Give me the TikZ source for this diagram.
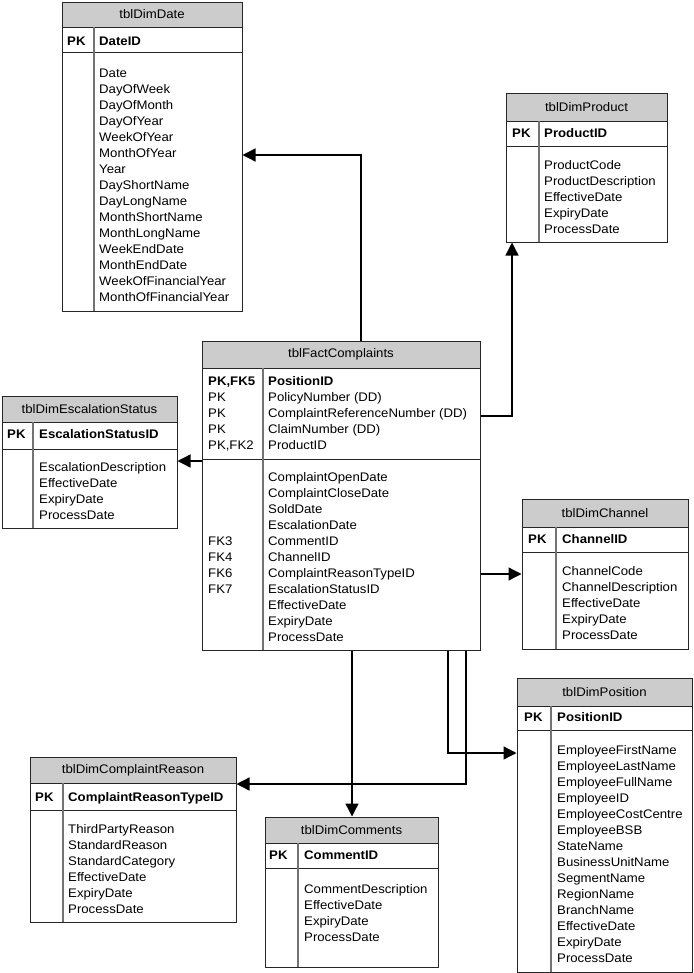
\documentclass[tikz,border=0pt]{standalone}
\usepackage{fontspec}
\setmainfont{Liberation Sans}[FakeStretch=1.06]
\usetikzlibrary{fit,arrows.meta}
\tikzset{
 hdrfill/.style={fill=black!20},
 rowline/.style={draw=black!85, line width=1bp},
 colline/.style={draw=black!55, line width=1.2bp},
 tblbox/.style={draw=black!85, line width=1bp, inner sep=0pt},
 ttl/.style={font=\fontsize{12.5}{16}\selectfont, inner sep=0pt},
 fld/.style={font=\fontsize{12.5}{16}\selectfont, anchor=base west, inner sep=0pt},
 conn/.style={draw=black, line width=1.3bp, -{Triangle[length=13bp,width=13bp]}},
}
% #1 name, #2 x1, #3 y1, #4 x2, #5 y2, #6 column x, #7 header bottom, #8 key section bottom, #9 title
\newcommand\dbtab[9]{%
 \coordinate (#1-nw) at (#2,#3);
 \coordinate (#1-se) at (#4,#5);
 \fill[hdrfill] (#2,#3) rectangle (#4,#7);
 \draw[rowline] (#2,#7) -- (#4,#7);
 \draw[rowline] (#2,#8) -- (#4,#8);
 \draw[colline] (#6,#7) -- (#6,#5);
 \node[tblbox, fit=(#1-nw)(#1-se)] (#1) {};
 \node[ttl] (#1-title) at ({(#2+#4)/2},{(#3+#7)/2}) {#9};
}
\newcommand\dblist[4]{%
 \foreach \t [count=\i from 0] in {#4} {\node[fld] (#1\i) at (#2,{#3+16*\i}) {\t};}%
}
\begin{document}
\begin{tikzpicture}[x=1bp,y=-1bp]
\useasboundingbox (0,0) rectangle (694,973);
\fill[white] (0,0) rectangle (694,973);

% tblDimDate
\dbtab{date}{62}{2}{242}{311}{94}{27}{52}{tblDimDate}
\node[fld] (date-pk) at (67,45) {\textbf{PK}};
\node[fld] (date-id) at (99,45) {\textbf{DateID}};
\dblist{dateb}{99}{77}{Date,DayOfWeek,DayOfMonth,DayOfYear,WeekOfYear,MonthOfYear,Year,DayShortName,DayLongName,MonthShortName,MonthLongName,WeekEndDate,MonthEndDate,WeekOfFinancialYear,MonthOfFinancialYear}

% tblDimProduct
\dbtab{prod}{506}{93}{667}{242}{539}{121}{146}{tblDimProduct}
\node[fld] (prod-pk) at (512,137) {\textbf{PK}};
\node[fld] (prod-id) at (544,137) {\textbf{ProductID}};
\dblist{prodb}{544}{169}{ProductCode,ProductDescription,EffectiveDate,ExpiryDate,ProcessDate}

% tblDimEscalationStatus
\dbtab{esc}{2}{396}{177}{528}{33}{422}{449}{tblDimEscalationStatus}
\node[fld] (esc-pk) at (7,438) {\textbf{PK}};
\node[fld] (esc-id) at (39,438) {\textbf{EscalationStatusID}};
\dblist{escb}{39}{471}{EscalationDescription,EffectiveDate,ExpiryDate,ProcessDate}

% tblFactComplaints
\dbtab{fact}{202}{341}{480}{650}{263}{368}{459}{tblFactComplaints}
\dblist{factk}{208}{385}{{\textbf{PK,FK5}},PK,PK,PK,{PK,FK2}}
\dblist{factf}{268}{385}{\textbf{PositionID},PolicyNumber (DD),ComplaintReferenceNumber (DD),ClaimNumber (DD),ProductID}
\dblist{factfk}{208}{545}{FK3,FK4,FK6,FK7}
\dblist{factb}{268}{481}{ComplaintOpenDate,ComplaintCloseDate,SoldDate,EscalationDate,CommentID,ChannelID,ComplaintReasonTypeID,EscalationStatusID,EffectiveDate,ExpiryDate,ProcessDate}

% tblDimChannel
\dbtab{chan}{522}{499}{688}{649}{556}{527}{552}{tblDimChannel}
\node[fld] (chan-pk) at (528,543) {\textbf{PK}};
\node[fld] (chan-id) at (562,543) {\textbf{ChannelID}};
\dblist{chanb}{562}{575}{ChannelCode,ChannelDescription,EffectiveDate,ExpiryDate,ProcessDate}

% tblDimPosition
\dbtab{pos}{517}{678}{692}{972}{551}{706}{730}{tblDimPosition}
\node[fld] (pos-pk) at (524,721) {\textbf{PK}};
\node[fld] (pos-id) at (557,721) {\textbf{PositionID}};
\dblist{posb}{557}{754}{EmployeeFirstName,EmployeeLastName,EmployeeFullName,EmployeeID,EmployeeCostCentre,EmployeeBSB,StateName,BusinessUnitName,SegmentName,RegionName,BranchName,EffectiveDate,ExpiryDate,ProcessDate}

% tblDimComplaintReason
\dbtab{reason}{30}{757}{236}{922}{63}{783}{810}{tblDimComplaintReason}
\node[fld] (reason-pk) at (35,801) {\textbf{PK}};
\node[fld] (reason-id) at (68,801) {\textbf{ComplaintReasonTypeID}};
\dblist{reasonb}{68}{833}{ThirdPartyReason,StandardReason,StandardCategory,EffectiveDate,ExpiryDate,ProcessDate}

% tblDimComments
\dbtab{comm}{265}{817}{438}{967}{298}{843}{868}{tblDimComments}
\node[fld] (comm-pk) at (269,859) {\textbf{PK}};
\node[fld] (comm-id) at (304,859) {\textbf{CommentID}};
\dblist{commb}{304}{893}{CommentDescription,EffectiveDate,ExpiryDate,ProcessDate}

% connectors
\coordinate (jd) at (361,155);
\draw[conn] (fact.north -| jd) |- (date.east |- jd);
\coordinate (jp) at (512,416);
\draw[conn] (fact.east |- jp) -| (prod.south -| jp);
\coordinate (je) at (0,461);
\draw[conn] (fact.west |- je) -- (esc.east |- je);
\coordinate (jc) at (0,574);
\draw[conn] (fact.east |- jc) -- (chan.west |- jc);
\coordinate (jpos) at (448,753);
\draw[conn] (fact.south -| jpos) |- (pos.west |- jpos);
\coordinate (jr) at (466,784);
\draw[conn] (fact.south -| jr) |- (reason.east |- jr);
\coordinate (jm) at (352,0);
\draw[conn] (fact.south -| jm) -- (comm.north -| jm);
\end{tikzpicture}
\end{document}
